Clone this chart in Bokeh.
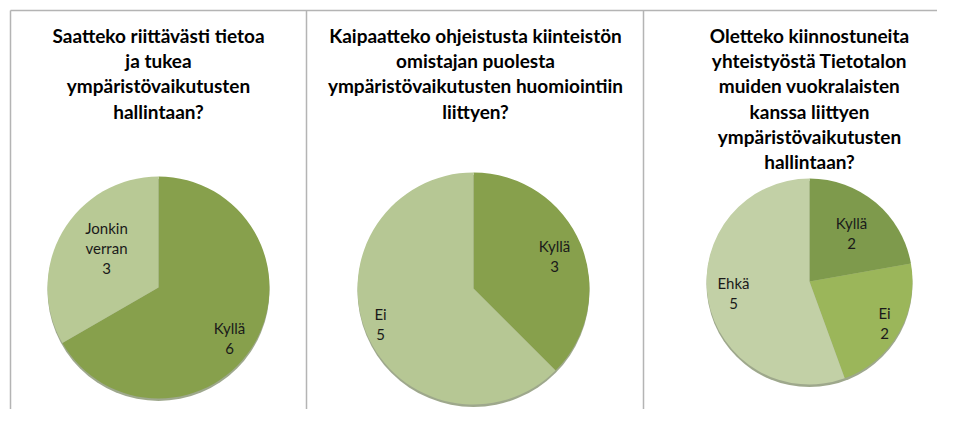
import numpy as np
from bokeh.plotting import figure
from bokeh.models import Range1d
from bokeh.core.properties import value
from bokeh.embed import file_html
from bokeh.resources import INLINE

# ---- data ----
titles = [
    ["Saatteko riittävästi tietoa", "ja tukea", "ympäristövaikutusten", "hallintaan?"],
    ["Kaipaatteko ohjeistusta kiinteistön", "omistajan puolesta", "ympäristövaikutusten huomiointiin", "liittyen?"],
    ["Oletteko kiinnostuneita", "yhteistyöstä Tietotalon", "muiden vuokralaisten", "kanssa liittyen", "ympäristövaikutusten", "hallintaan?"],
]
cats1 = ["Kyllä", "Jonkin verran"]
vals1 = [6, 3]
cats2 = ["Kyllä", "Ei"]
vals2 = [3, 5]
cats3 = ["Kyllä", "Ei", "Ehkä"]
vals3 = [2, 2, 5]

colors1 = ["#87a04c", "#b8c995"]
colors2 = ["#87a04c", "#b6c794"]
colors3 = ["#7e9a4c", "#9bb65a", "#c2d0a6"]

# layout (image pixel coordinates)
W, H = 937, 409
YOFF = 8
def Y(img_y):
    return (YOFF + H) - img_y

p = figure(width=W, height=H, output_backend="svg", toolbar_location=None,
           x_range=Range1d(0, W), y_range=Range1d(YOFF, YOFF + H),
           min_border=0, outline_line_color=None)
p.axis.visible = False
p.grid.visible = False
p.background_fill_color = "white"

# frame lines
border = "#b4b4b4"
p.line([10, 953], [Y(10), Y(10)], line_color=border, line_width=1.5)
for xx in [10, 306, 643]:
    p.line([xx, xx], [Y(10), Y(425)], line_color=border, line_width=1.5)

panels = [
    dict(cats=cats1, vals=vals1, colors=colors1, cx=158, cy=287, r=111, tx=158, ty0=35,
         labels=[(229, 327), (106, 227)]),
    dict(cats=cats2, vals=vals2, colors=colors2, cx=473, cy=288, r=116, tx=475, ty0=35,
         labels=[(554, 245), (380, 313)]),
    dict(cats=cats3, vals=vals3, colors=colors3, cx=809, cy=281, r=103, tx=809, ty0=35,
         labels=[(851, 222), (884, 312), (733, 282)]),
]

for i, pn in enumerate(panels):
    vals = np.array(pn["vals"], dtype=float)
    frac = vals / vals.sum()
    ends = np.cumsum(frac)
    starts = ends - frac
    sa = np.pi / 2 - starts * 2 * np.pi
    ea = np.pi / 2 - ends * 2 * np.pi
    # shadow
    p.circle(x=[pn["cx"]], y=[Y(pn["cy"]) - 2.5], radius=pn["r"], fill_color="#5e6e40",
             fill_alpha=0.6, line_color=None)
    p.wedge(x=[pn["cx"]] * len(vals), y=[Y(pn["cy"])] * len(vals), radius=pn["r"],
            start_angle=list(sa), end_angle=list(ea), direction="clock",
            fill_color=pn["colors"], line_color=None)
    # labels
    for c, v, (lx, ly) in zip(pn["cats"], pn["vals"], pn["labels"]):
        lines = c.split(" ") + [str(v)]
        for k, t in enumerate(lines):
            p.text(x=[lx], y=[Y(ly + k * 20.5)], text=[t], text_align="center",
                   text_baseline="middle", text_font=value("Lato"),
                   text_font_size="15px", text_color="#1a1a1a")
    # title
    for k, t in enumerate(titles[i]):
        p.text(x=[pn["tx"]], y=[Y(pn["ty0"] + k * 25.2)], text=[t], text_align="center",
               text_baseline="middle", text_font=value("Lato"), text_font_style="bold",
               text_font_size="19px", text_color="#000000")

open("out.html", "w").write(file_html(p, INLINE))
